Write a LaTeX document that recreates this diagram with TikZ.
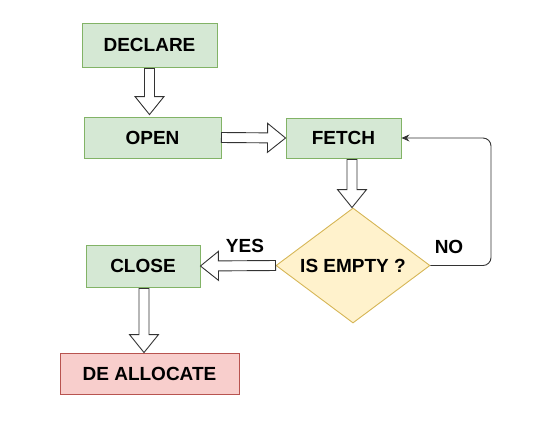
\documentclass[tikz,border=0pt]{standalone}
\usepackage{fontspec}
\setmainfont{Liberation Sans}
\usetikzlibrary{calc,shapes.geometric,arrows.meta}
\definecolor{gfill}{HTML}{D5E8D4}
\definecolor{gline}{HTML}{82B366}
\definecolor{yfill}{HTML}{FFF2CC}
\definecolor{yline}{HTML}{D6B656}
\definecolor{rfill}{HTML}{F8CECC}
\definecolor{rline}{HTML}{B85450}
\definecolor{edge}{HTML}{333333}
\tikzset{
  box/.style={rectangle, draw=gline, fill=gfill, line width=0.9bp, inner sep=0pt,
    font=\fontsize{19bp}{22bp}\selectfont\bfseries},
  redbox/.style={box, draw=rline, fill=rfill},
  decision/.style={diamond, draw=yline, fill=yfill, line width=0.9bp, inner sep=0pt,
    aspect=1.34, minimum width=154bp, minimum height=115bp,
    font=\fontsize{19bp}{22bp}\selectfont\bfseries},
  lbl/.style={inner sep=0pt, font=\fontsize{19bp}{22bp}\selectfont\bfseries},
  flex/.style={draw=edge, fill=white, line width=0.9bp, line join=miter,
    to path={
      ($(\tikztostart)!5bp!90:(\tikztotarget)$)
      -- ($(\tikztotarget)!18.68bp!-15.52:(\tikztostart)$)
      -- ($(\tikztotarget)!23.11bp!-38.85:(\tikztostart)$)
      -- (\tikztotarget)
      -- ($(\tikztotarget)!23.11bp!38.85:(\tikztostart)$)
      -- ($(\tikztotarget)!18.68bp!15.52:(\tikztostart)$)
      -- ($(\tikztostart)!5bp!-90:(\tikztotarget)$)
      -- cycle}},
  thin edge/.style={draw=edge, line width=0.9bp, rounded corners=8bp,
    -{Stealth[length=8bp,width=7bp]}}
}
\begin{document}
\begin{tikzpicture}[x=1bp,y=-1bp]
\useasboundingbox (0,0) rectangle (553,428);
\node[box, minimum width=135bp, minimum height=44bp] (decl) at (149.5,45) {DECLARE};
\node[box, minimum width=137bp, minimum height=41bp] (open) at (152.5,137.5) {OPEN};
\node[box, minimum width=115bp, minimum height=40bp] (fetch) at (343.5,138) {FETCH};
\node[decision] (dia) at (353,265.5) {IS EMPTY ?};
\node[box, minimum width=114bp, minimum height=42bp] (close) at (143,266) {CLOSE};
\node[redbox, minimum width=179bp, minimum height=41bp] (dealloc) at (149.5,373.5) {DE ALLOCATE};
\node[lbl] (yes) at (245,246) {YES};
\node[lbl] (no) at (449,247) {NO};
\coordinate (loop) at (491,138);

\path[flex] ($(decl.south)+(0,1)$) to ($(decl.south |- open.north)+(0,-2)$);
\path[flex] (open.east) to (fetch.west);
\path[flex] ($(dia.north |- fetch.south)+(-1,1)$) to ($(dia.north)+(-1,0)$);
\path[flex] (dia.west) to (close.east);
\path[flex] ($(close.south)+(1,1)$) to ($(close.south |- dealloc.north)+(1,0)$);
\draw[thin edge] (dia.east) -| (loop) -- (fetch.east);
\end{tikzpicture}
\end{document}
